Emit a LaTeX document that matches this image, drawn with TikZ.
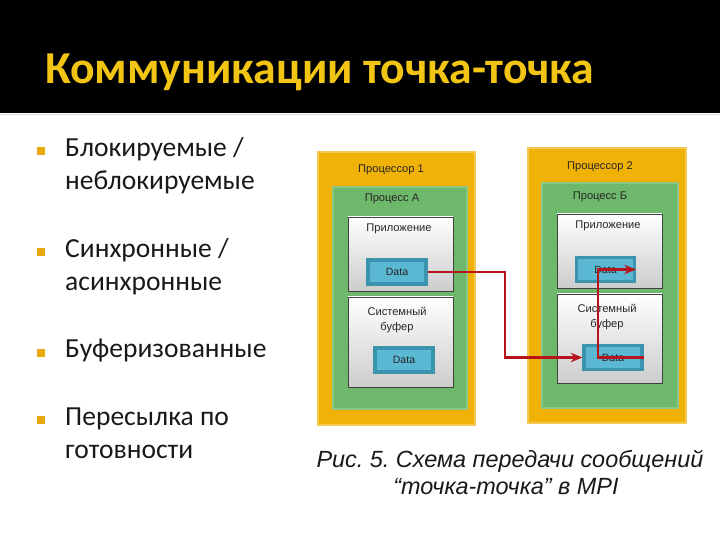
\documentclass[tikz,border=0pt]{standalone}
\usepackage{fontspec}
\setmainfont{Carlito}
\newfontfamily\arialfont{Liberation Sans}
\usepackage{xcolor}
\usepackage{tikz}
\usetikzlibrary{positioning,fit,arrows.meta}
\frenchspacing
\definecolor{titleyellow}{HTML}{F2C414}
\definecolor{bulletorange}{HTML}{EAAA0E}
\definecolor{cpufill}{HTML}{F0B207}
\definecolor{cpuline}{HTML}{C99508}
\definecolor{procfill}{HTML}{6EB86C}
\definecolor{procline}{HTML}{4C974B}
\definecolor{datafill}{HTML}{5BB8D2}
\definecolor{dataline}{HTML}{3A94AE}
\definecolor{msgred}{HTML}{B8121C}
\tikzset{
	cpubox/.style={rectangle, inner sep=0pt, fill=cpufill, draw=cpuline, line width=0.6pt, double=cpufill!70!white, double distance=1.2pt},
	procbox/.style={rectangle, inner sep=0pt, fill=procfill, draw=procline, line width=0.6pt, double=procfill!80!white, double distance=1.2pt},
	bufbox/.style={rectangle, inner sep=0pt, draw=black!75, line width=0.7pt, top color=white, bottom color=black!20},
	databox/.style={rectangle, inner sep=0pt, minimum width=1.74cm, minimum height=0.72cm, fill=datafill, draw=dataline, line width=2.6pt, font=\arialfont\fontsize{9}{10}\selectfont, text=black!85},
	boxlabel/.style={font=\arialfont\fontsize{9.5}{12}\selectfont, text=black!85, align=center, inner sep=0pt},
	bulletsq/.style={rectangle, fill=bulletorange, minimum size=7pt, inner sep=0pt},
	itemtext/.style={anchor=base west, inner sep=0pt, font=\fontsize{23.5}{26}\selectfont, text=black!90},
	msgarrow/.style={draw=msgred, line width=2pt, -{Stealth[length=10pt, width=8pt]}}
}
\begin{document}
\begin{tikzpicture}[x=0.03cm, y=-0.03cm]
	\useasboundingbox (0,0) rectangle (720,540);
	% title band
	\fill[black] (0,0) rectangle (720,113);
	\draw[black!15, line width=1pt] (0,114.5) -- (720,114.5);
	\node[anchor=base west, inner sep=0pt, text=titleyellow, font=\fontsize{39}{42}\selectfont\bfseries] (title) at (45,84) {Коммуникации точка-точка};

	% bullet list
	\node[bulletsq] (b1) at (41,151) {};
	\node[itemtext] (t1a) at (65,157) {Блокируемые /};
	\node[itemtext] (t1b) at (65,190) {неблокируемые};
	\node[bulletsq] (b2) at (41,252) {};
	\node[itemtext] (t2a) at (65,258) {Синхронные /};
	\node[itemtext] (t2b) at (65,291) {асинхронные};
	\node[bulletsq] (b3) at (41,353) {};
	\node[itemtext] (t3) at (65,358) {Буферизованные};
	\node[bulletsq] (b4) at (41,420) {};
	\node[itemtext] (t4a) at (65,425) {Пересылка по};
	\node[itemtext] (t4b) at (65,458) {готовности};

	% processor 1
	\node[cpubox, fit={(318,152) (475,425)}] (cpu1) {};
	\node[boxlabel] (cpu1lbl) at (391,170) {Процессор 1};
	\node[procbox, fit={(333,187) (467,409)}] (procA) {};
	\node[boxlabel] (procAlbl) at (392,199) {Процесс А};
	\node[bufbox, fit={(348,217) (453,291)}] (appA) {};
	\node[boxlabel] (appAlbl) at (399,229) {Приложение};
	\node[databox] (dataA1) at (397,272) {Data};
	\node[bufbox, fit={(348,297) (453,387)}] (sysA) {};
	\node[boxlabel] (sysAlbl) at (397,320) {Системный\\буфер};
	\node[databox] (dataA2) at (404,360) {Data};

	% processor 2
	\node[cpubox, fit={(528,148) (686,423)}] (cpu2) {};
	\node[boxlabel] (cpu2lbl) at (600,167) {Процессор 2};
	\node[procbox, fit={(542,183) (678,408)}] (procB) {};
	\node[boxlabel] (procBlbl) at (600,197) {Процесс Б};
	\node[bufbox, fit={(557,214) (662,288)}] (appB) {};
	\node[boxlabel] (appBlbl) at (608,226) {Приложение};
	\node[databox] (dataB1) at (605.5,269.5) {Data};
	\node[bufbox, fit={(557,294) (662,383)}] (sysB) {};
	\node[boxlabel] (sysBlbl) at (607,317) {Системный\\буфер};
	\node[databox] (dataB2) at (613,357.5) {Data};

	% message path
	\coordinate (turnA) at (505,357.5);
	\coordinate (turnB) at (598,357.5);
	\draw[msgarrow] (dataA1.east) -| (turnA) |- (dataB2.west);
	\draw[msgarrow] (dataB2.east) -- (turnB) |- (dataB1.east);

	% caption
	\node[anchor=base, inner sep=0pt, font=\arialfont\itshape\fontsize{20}{22}\selectfont, text=black!90] (cap1) at (510,467) {Рис. 5. Схема передачи сообщений};
	\node[anchor=base, inner sep=0pt, font=\arialfont\itshape\fontsize{20}{22}\selectfont, text=black!90] (cap2) at (506,494) {“точка-точка” в MPI};
\end{tikzpicture}
\end{document}
